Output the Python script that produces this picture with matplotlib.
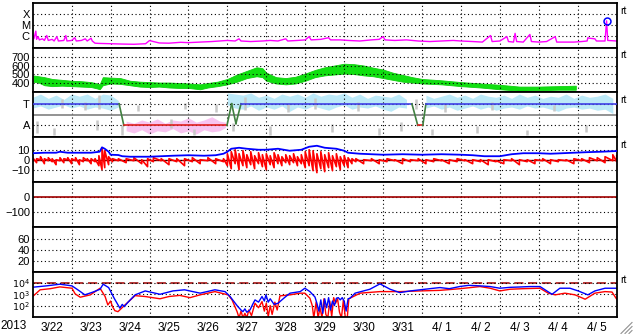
import matplotlib.pyplot as plt
import numpy as np
from matplotlib.lines import Line2D

plt.rcParams['font.family'] = ['Liberation Sans', 'DejaVu Sans']

# x axis: days since 2013-03-22 00:00
day_labels = ['3/22', '3/23', '3/24', '3/25', '3/26', '3/27', '3/28', '3/29',
              '3/30', '3/31', '4/ 1', '4/ 2', '4/ 3', '4/ 4', '4/ 5']

# panel 1: GOES X-ray flux (day, log10 W/m2)
xray = [(0.00, -6.0), (0.03, -6.3), (0.08, -5.6), (0.10, -6.35), (0.14, -6.1), (0.17, -6.4),
        (0.25, -6.3), (0.30, -6.45), (0.36, -6.0), (0.40, -6.45), (0.50, -6.35), (0.55, -6.5),
        (0.62, -6.1), (0.66, -6.5), (0.80, -6.45), (0.85, -6.0), (0.88, -6.5), (1.00, -6.45),
        (1.08, -6.2), (1.12, -6.5), (1.25, -6.45), (1.35, -6.3), (1.40, -6.5), (1.50, -6.25),
        (1.53, -6.5), (1.60, -6.7), (1.70, -6.72), (2.00, -6.75), (2.30, -6.78), (2.60, -6.8),
        (2.90, -6.75), (3.00, -6.46), (3.10, -6.55), (3.25, -6.68), (3.50, -6.7), (3.80, -6.62),
        (4.00, -6.65), (4.30, -6.6), (4.60, -6.55), (4.80, -6.5), (5.00, -6.45), (5.20, -6.5),
        (5.30, -6.3), (5.35, -6.5), (5.60, -6.55), (5.90, -6.5), (6.10, -6.45), (6.30, -6.5),
        (6.50, -6.3), (6.55, -6.5), (6.80, -6.45), (7.00, -6.4), (7.10, -6.1), (7.15, -6.4),
        (7.40, -6.35), (7.60, -6.2), (7.65, -6.4), (7.90, -6.4), (8.10, -6.45), (8.40, -6.5),
        (8.70, -6.4), (8.90, -6.35), (9.00, -6.1), (9.05, -6.4), (9.30, -6.45), (9.60, -6.4),
        (9.90, -6.5), (10.20, -6.55), (10.50, -6.5), (10.80, -6.45), (11.00, -6.5), (11.30, -6.55),
        (11.55, -6.6), (11.76, -6.0), (11.80, -6.55), (12.00, -6.5), (12.18, -6.1), (12.22, -6.55),
        (12.35, -6.6), (12.39, -5.8), (12.43, -6.55), (12.60, -6.6), (12.77, -5.9), (12.81, -6.55),
        (13.00, -6.6), (13.20, -6.55), (13.42, -6.1), (13.46, -6.6), (13.70, -6.6), (13.90, -6.6),
        (14.10, -6.55), (14.24, -6.5), (14.26, -6.2), (14.30, -6.25), (14.44, -6.3), (14.48, -6.5),
        (14.70, -6.5), (14.74, -4.66), (14.77, -6.45), (15.00, -6.5)]
flare_peak = (14.74, -4.66)

# panel 2: solar wind speed band (day, low, high) km/s
speed = [(0.00, 420, 490), (0.15, 410, 480), (0.30, 380, 470), (0.50, 370, 450), (0.75, 375, 440),
         (1.00, 370, 430), (1.25, 365, 425), (1.50, 360, 415), (1.65, 345, 400), (1.72, 335, 390),
         (1.80, 380, 470), (2.00, 400, 465), (2.25, 395, 460), (2.50, 380, 430), (2.75, 365, 420),
         (3.00, 360, 415), (3.25, 365, 410), (3.50, 355, 410), (3.75, 350, 405), (4.00, 350, 400),
         (4.30, 335, 390), (4.50, 355, 405), (4.75, 370, 420), (5.00, 390, 450), (5.25, 420, 500),
         (5.50, 460, 540), (5.75, 480, 580), (5.90, 470, 570), (6.00, 430, 520), (6.25, 400, 470),
         (6.50, 390, 460), (6.75, 400, 475), (7.00, 430, 510), (7.25, 470, 550), (7.50, 490, 580),
         (7.75, 500, 600), (8.00, 510, 620), (8.25, 505, 615), (8.50, 490, 600), (8.75, 480, 575),
         (9.00, 460, 555), (9.25, 440, 520), (9.50, 420, 495), (9.75, 410, 470), (10.00, 400, 450),
         (10.50, 390, 435), (11.00, 370, 415), (11.50, 355, 400), (12.00, 335, 385), (12.50, 320, 365),
         (13.00, 325, 365), (13.50, 330, 370), (13.95, 330, 375)]

# panel 3: IMF sector (T = +1, A = -1)
sector_t = [0, 2.22, 2.34, 4.99, 5.11, 5.22, 5.35, 9.74, 9.89, 10.02, 10.10, 15]
sector_u = [1, 1, -1, -1, 1, -0.83, 1, 1, -1, -1, 1, 1]
sector_c = ['b', 'g', 'r', 'g', 'g', 'g', 'b', 'g', 'r', 'g', 'b']
cyan_a = [(0.00, 0.6, 1.6), (0.20, 0.8, 1.9), (0.40, 0.5, 1.5), (0.60, 0.7, 1.8), (0.80, 0.9, 1.4),
          (1.00, 0.6, 1.9), (1.20, 0.8, 1.7), (1.40, 0.5, 1.9), (1.60, 0.7, 1.5), (1.80, 0.6, 1.9),
          (2.00, 0.4, 1.8), (2.20, 0.7, 1.3)]
cyan_b = [(5.00, 0.9, 2.0), (5.20, 0.6, 1.9), (5.40, 0.5, 1.8), (5.60, 0.8, 2.0), (5.80, 0.4, 1.6),
          (6.00, 0.7, 1.8), (6.20, 0.5, 1.5), (6.40, 0.8, 1.9), (6.60, 0.3, 1.7), (6.80, 0.7, 1.9),
          (7.00, 0.5, 1.6), (7.20, 0.8, 2.0), (7.40, 0.6, 1.7), (7.60, 0.4, 1.9), (7.80, 0.7, 1.8),
          (8.00, 0.9, 2.0), (8.20, 0.5, 1.6), (8.40, 0.7, 1.9), (8.60, 0.6, 1.5), (8.80, 0.8, 1.8),
          (9.00, 0.5, 1.7), (9.20, 0.3, 1.6), (9.40, 0.7, 1.9), (9.60, 0.6, 1.4)]
cyan_c = [(10.10, 0.6, 1.8), (10.30, 0.8, 1.5), (10.50, 0.5, 1.7), (10.70, 0.7, 1.9), (10.90, 0.4, 1.6),
          (11.10, 0.6, 1.8), (11.30, 0.8, 1.5), (11.50, 0.5, 1.9), (11.70, 0.7, 1.7), (11.90, 0.4, 1.6),
          (12.10, 0.6, 1.8), (12.30, 0.7, 1.5), (12.50, 0.5, 1.9), (12.70, 0.8, 1.6), (12.90, 0.6, 1.8),
          (13.10, 0.7, 1.5), (13.30, 0.5, 1.7), (13.50, 0.3, 1.6), (13.70, 0.6, 1.9), (13.90, 0.7, 1.5),
          (14.10, 0.5, 1.8), (14.30, 0.6, 1.6), (14.50, 0.4, 1.7), (14.70, 0.5, 1.9), (14.90, 0.1, 1.5)]
pink = [(2.40, -1.5, -0.6), (2.60, -1.7, -0.8), (2.80, -1.4, -0.5), (3.00, -1.8, -0.7),
        (3.20, -1.5, -0.4), (3.40, -1.6, -0.8), (3.60, -1.3, -0.5), (3.80, -1.7, -0.6),
        (4.00, -1.5, -0.3), (4.20, -1.8, -0.7), (4.40, -1.4, -0.5), (4.60, -1.6, -0.2),
        (4.80, -1.5, -0.6), (4.95, -1.2, -0.7)]
grey_pts = [(0.10, -1.7, -0.6), (0.55, -1.9, -1.2), (0.75, 0.6, 1.4), (1.35, 0.4, 1.2),
            (1.65, -1.4, -0.5), (1.70, 0.5, 1.8), (2.30, -1.9, -1.0), (2.70, 0.3, 0.9),
            (3.55, -1.2, -0.4), (3.90, 0.5, 1.1), (4.15, -1.9, -1.3), (4.70, 0.2, 1.0),
            (5.15, -1.5, -0.8), (5.45, 0.4, 1.6), (6.10, -1.9, -1.1), (6.55, 0.2, 1.0),
            (7.25, 0.5, 1.5), (7.70, -1.6, -0.9), (8.35, 0.3, 1.2), (8.90, -1.9, -1.2),
            (9.45, -1.5, -0.7), (9.85, 0.5, 1.4), (10.25, -1.9, -1.3), (10.60, 0.2, 1.0),
            (11.40, -1.7, -1.1), (11.80, 0.4, 1.2), (12.70, -1.9, -1.4), (13.40, 0.3, 0.9),
            (14.20, -1.6, -1.0)]

# panel 4: IMF Bt (line) and Bz swings (day, low, high) nT
bt = [(0.0, 6.5), (0.3, 7.0), (0.6, 7.0), (0.7, 8.0), (0.9, 7.0), (1.2, 7.0), (1.5, 7.0),
      (1.72, 8.0), (1.78, 12.4), (1.85, 11.0), (1.95, 8.0), (2.0, 5.0), (2.2, 4.7), (2.3, 3.5),
      (2.5, 3.0), (3.0, 3.0), (3.3, 3.5), (3.6, 4.0), (4.0, 4.5), (4.4, 4.0), (4.7, 4.5),
      (4.9, 6.0), (5.0, 8.0), (5.1, 11.0), (5.3, 12.0), (5.5, 11.0), (5.8, 10.0), (6.0, 10.0),
      (6.3, 11.0), (6.6, 9.0), (6.9, 10.0), (7.1, 13.0), (7.3, 14.0), (7.5, 12.0), (7.8, 11.0),
      (8.0, 9.0), (8.1, 7.0), (8.4, 6.0), (8.7, 5.5), (9.0, 5.0), (9.5, 5.5), (10.0, 5.0),
      (10.5, 5.5), (11.0, 5.0), (11.3, 4.5), (11.6, 3.5), (12.0, 3.5), (12.3, 5.5), (12.6, 6.5),
      (13.0, 6.5), (13.3, 6.0), (13.6, 6.5), (13.9, 7.0), (14.2, 7.5), (14.6, 8.0), (15.0, 8.7)]
bz = [(0.0, -1, 2), (0.1, -3, 1), (0.2, 0, 3), (0.3, -4, 1), (0.4, -1, 2), (0.5, -2, 1),
      (0.6, -5, 0), (0.7, -1, 2), (0.8, -3, 1), (0.9, 0, 2), (1.0, -4, 1), (1.1, -1, 2),
      (1.2, -5, 0), (1.3, -2, 2), (1.4, -1, 1), (1.5, -4, 1), (1.6, -2, 1), (1.7, -6, 4),
      (1.78, -10, 12), (1.85, -8, 9), (1.95, -5, 3), (2.05, -2, 1), (2.2, -1, 1), (2.4, -3, 1),
      (2.6, -1, 2), (2.8, -4, 0), (2.95, -7, 1), (3.1, -2, 2), (3.3, -1, 1), (3.5, -5, 1),
      (3.7, -2, 1), (3.9, -6, 1), (4.1, -2, 2), (4.3, -4, 0), (4.5, -1, 2), (4.7, -4, 1),
      (4.9, -2, 1), (5.0, -6, 6), (5.1, -9, 8), (5.2, -4, 10), (5.3, -10, 6), (5.4, -6, 9),
      (5.5, -8, 5), (5.6, -5, 8), (5.7, -9, 4), (5.8, -4, 7), (5.9, -7, 5), (6.0, -10, 6),
      (6.1, -5, 4), (6.2, -8, 7), (6.3, -4, 5), (6.4, -6, 3), (6.5, -3, 5), (6.6, -5, 4),
      (6.7, -3, 6), (6.8, -6, 3), (6.9, -4, 5), (7.0, -8, 8), (7.1, -6, 10), (7.2, -11, 9),
      (7.3, -13, 6), (7.4, -9, 8), (7.5, -12, 5), (7.6, -8, 7), (7.7, -11, 4), (7.8, -7, 6),
      (7.9, -10, 3), (8.0, -6, 4), (8.1, -8, 2), (8.2, -4, 1), (8.3, -2, 1), (8.5, -4, 0),
      (8.7, -1, 1), (8.9, -4, 0), (9.1, -2, 1), (9.3, -1, 0), (9.5, -4, 1), (9.7, -2, 0),
      (9.9, -1, 1), (10.1, -4, 0), (10.3, -2, 1), (10.5, -1, 0), (10.7, -4, 0), (10.9, -2, 1),
      (11.1, -1, 0), (11.3, -4, 0), (11.5, -2, 0), (11.7, -5, 0), (11.9, -2, -1), (12.1, -4, 0),
      (12.3, -1, 1), (12.5, -5, 0), (12.7, -2, 0), (12.9, -4, 0), (13.1, -1, 1), (13.3, -4, 0),
      (13.5, -2, 0), (13.7, -1, 0), (13.9, -4, 1), (14.1, -1, 1), (14.3, -3, 2), (14.5, -1, 2),
      (14.7, -3, 3), (14.9, -1, 5), (15.0, -2, 4)]

# panel 7: electron flux, two channels (day, log10 flux)
e_blue = [(0.00, 3.63), (0.35, 3.75), (0.70, 3.90), (1.01, 3.75), (1.20, 3.30), (1.34, 2.95),
          (1.55, 3.20), (1.73, 3.45), (1.81, 3.90), (1.95, 3.60), (2.10, 2.60), (2.24, 1.76),
          (2.30, 2.10), (2.35, 1.90), (2.45, 2.30), (2.63, 2.95), (2.89, 3.30), (3.27, 3.00),
          (3.60, 3.30), (3.90, 3.40), (4.30, 3.10), (4.68, 3.40), (4.94, 3.24), (5.07, 2.80),
          (5.27, 1.90), (5.35, 1.60), (5.40, 1.45), (5.45, 1.70), (5.50, 1.40), (5.58, 1.60),
          (5.65, 2.10), (5.71, 2.50), (5.80, 2.30), (5.89, 2.80), (5.95, 2.40), (5.99, 2.95),
          (6.05, 2.30), (6.10, 2.60), (6.20, 2.10), (6.30, 2.20), (6.40, 2.50), (6.48, 2.74),
          (6.61, 3.10), (6.87, 3.24), (6.99, 3.54), (7.12, 3.24), (7.25, 2.76), (7.30, 2.20),
          (7.35, 1.50), (7.40, 2.50), (7.45, 1.30), (7.50, 2.60), (7.55, 1.80), (7.60, 2.70),
          (7.65, 1.60), (7.70, 2.40), (7.75, 2.00), (7.80, 2.65), (7.85, 2.70), (7.90, 2.50),
          (7.95, 2.70), (8.00, 2.40), (8.05, 1.50), (8.10, 2.60), (8.15, 2.65), (8.28, 3.10),
          (8.66, 3.45), (8.92, 3.93), (9.18, 3.45), (9.43, 3.15), (9.70, 3.30), (9.95, 3.40),
          (10.20, 3.50), (10.46, 3.60), (10.70, 3.50), (10.98, 3.70), (11.20, 3.80), (11.49, 3.75),
          (11.75, 3.69), (12.00, 3.54), (12.26, 3.62), (12.50, 3.65), (12.77, 3.69), (13.03, 3.69),
          (13.16, 3.40), (13.34, 3.00), (13.54, 3.54), (13.80, 3.54), (14.01, 3.30), (14.26, 2.95),
          (14.44, 3.30), (14.70, 3.54), (15.00, 3.54)]
e_red = [(0.00, 2.80), (0.19, 3.40), (0.45, 3.50), (0.70, 3.66), (1.01, 3.54), (1.09, 3.04),
         (1.22, 2.74), (1.48, 2.95), (1.73, 3.54), (1.86, 2.80), (1.93, 2.05), (2.00, 2.40),
         (2.05, 1.90), (2.11, 1.54), (2.19, 1.45), (2.37, 2.05), (2.63, 2.88), (2.89, 2.80),
         (3.27, 2.60), (3.50, 2.80), (3.78, 2.90), (4.04, 2.70), (4.30, 2.95), (4.68, 3.24),
         (5.02, 2.95), (5.12, 2.50), (5.25, 1.45), (5.30, 0.90), (5.35, 1.50), (5.40, 0.90),
         (5.45, 1.30), (5.50, 0.90), (5.55, 1.60), (5.62, 1.10), (5.71, 2.20), (5.80, 1.80),
         (5.89, 2.35), (5.95, 1.50), (6.00, 2.20), (6.05, 1.00), (6.10, 2.00), (6.15, 1.20),
         (6.22, 2.30), (6.28, 1.60), (6.35, 2.86), (6.61, 2.95), (6.87, 3.10), (6.99, 3.10),
         (7.12, 2.65), (7.18, 2.00), (7.22, 0.90), (7.28, 2.30), (7.33, 0.90), (7.38, 1.80),
         (7.43, 0.90), (7.48, 2.60), (7.53, 1.20), (7.58, 0.90), (7.63, 2.40), (7.68, 1.00),
         (7.73, 2.70), (7.78, 2.20), (7.83, 2.60), (7.88, 1.40), (7.93, 0.90), (7.98, 2.50),
         (8.03, 0.90), (8.08, 0.90), (8.12, 2.60), (8.20, 2.74), (8.41, 3.10), (8.92, 3.24),
         (9.43, 3.24), (9.95, 3.30), (10.46, 3.35), (10.98, 3.50), (11.49, 3.69), (11.75, 3.54),
         (12.00, 3.30), (12.26, 3.45), (12.60, 3.50), (13.03, 3.54), (13.24, 3.10), (13.42, 2.95),
         (13.67, 3.10), (13.93, 2.95), (14.19, 2.56), (14.44, 3.10), (14.70, 3.24), (14.88, 3.20),
         (15.00, 2.56)]

W, H = 633, 334
fig = plt.figure(figsize=(W / 100, H / 100), dpi=100)

x0, x1 = 32.7, 616.7
top, ph = 2.7, 44.86
dots = (0, (1, 2.4))
axes = []
for i in range(7):
    ax = fig.add_axes([x0 / W, 1 - (top + ph * (i + 1)) / H, (x1 - x0) / W, ph / H])
    ax.set_xlim(0, 15)
    ax.set_xticks(range(1, 15))
    ax.set_xticks(np.arange(15) + 0.5, minor=True)
    ax.tick_params(which='both', length=0, labelsize=8, pad=2)
    ax.tick_params(axis='x', which='major', labelbottom=False)
    ax.grid(True, which='major', color='k', linestyle=dots, linewidth=0.8)
    for s in ax.spines.values():
        s.set_linewidth(1.3)
    axes.append(ax)

for ax in axes[:-1]:
    ax.set_xticklabels([], minor=True)
axes[-1].set_xticklabels(day_labels, minor=True, fontsize=8.5)
axes[-1].tick_params(axis='x', which='minor', pad=4)

def unzip(pairs):
    return [np.array(c) for c in zip(*pairs)]

# 1 X-ray
ax = axes[0]
t, v = unzip(xray)
ax.plot(t, 10.0 ** v, color='#ff00ff', lw=1.0)
ax.plot(flare_peak[0], 10 ** flare_peak[1], 'o', mfc='none', mec='#0000ff', ms=5, mew=1.1)
ax.set_yscale('log')
ax.set_ylim(10 ** -7.1, 1e-3)
ax.set_yticks([1e-4, 1e-5, 1e-6], ['X', 'M', 'C'])
ax.yaxis.set_minor_locator(plt.NullLocator())

# 2 solar wind speed
ax = axes[1]
t, lo, hi = unzip(speed)
ax.fill_between(t, lo, hi, color='#10e010', lw=0.6, edgecolor='#10d010')
ax.set_ylim(300, 800)
ax.set_yticks([400, 500, 600, 700])

# 3 sector
ax = axes[2]
for part in (cyan_a, cyan_b, cyan_c):
    t, lo, hi = unzip(part)
    ax.fill_between(t, lo, hi, color='#bce9f8', lw=0, zorder=1)
t, lo, hi = unzip(pink)
ax.fill_between(t, lo, hi, color='#f8c4f0', lw=0, zorder=1)
t, lo, hi = unzip(grey_pts)
ax.vlines(t, lo, hi, color='#c8c8c8', lw=1.8, zorder=1)
ax.axhline(0, color='#808080', lw=1.2, zorder=2)
colmap = {'b': '#4040e8', 'g': '#408040', 'r': '#e02020'}
for k, c in enumerate(sector_c):
    ax.plot(sector_t[k:k + 2], sector_u[k:k + 2], color=colmap[c], lw=1.2, zorder=3)
ax.set_ylim(-2.1, 2.05)
ax.set_yticks([1, -1], ['T', 'A'])

# 4 Bt / Bz  (Bz drawn as a jagged trace through its swings)
ax = axes[3]
t, lo, hi = unzip(bz)
ax.plot(np.repeat(t, 2), np.column_stack([lo, hi]).ravel(), color='#ff0000', lw=1.2, zorder=2)
t, v = unzip(bt)
ax.plot(t, v, color='#0000ff', lw=1.3, zorder=3)
ax.axhline(0, color='#a00000', lw=1.0, zorder=1)
ax.set_ylim(-22.5, 22.5)
ax.set_yticks([10, 0, -10])

# 5 Dst
ax = axes[4]
ax.axhline(0, color='#a00000', lw=1.2)
ax.set_ylim(-200, 100)
ax.set_yticks([0, -100])

# 6
ax = axes[5]
ax.set_ylim(-1, 83)
ax.set_yticks([20, 40, 60])

# 7 electron flux
ax = axes[6]
t, v = unzip(e_red)
ax.plot(t, 10.0 ** v, color='#ff0000', lw=1.0)
t, v = unzip(e_blue)
ax.plot(t, 10.0 ** v, color='#0000ff', lw=1.0)
ax.axhline(1e4, color='#a00000', lw=1.1, linestyle=(0, (6, 3)), zorder=1)
ax.set_yscale('log')
ax.set_ylim(1e1, 1e5)
ax.set_yticks([1e4, 1e3, 1e2], ['$10^4$', '$10^3$', '$10^2$'])
ax.tick_params(axis='y', labelsize=6.8)
ax.yaxis.set_minor_locator(plt.NullLocator())

fig.text(14 / W, 1 - 326 / H, '2013', ha='center', va='center', fontsize=8.5)
for yp in (11, 55, 100, 145, 280):
    fig.text(620 / W, 1 - yp / H, 'rt', ha='left', va='center', fontsize=7.5)

# resize grip
for k in range(3):
    o = 4 + 4 * k
    fig.add_artist(Line2D([(W - 1) / W, (W - o) / W], [(o - 0.5) / H, 0.5 / H],
                          color='#909090', lw=0.8))

fig.savefig('out.png', dpi=100)
